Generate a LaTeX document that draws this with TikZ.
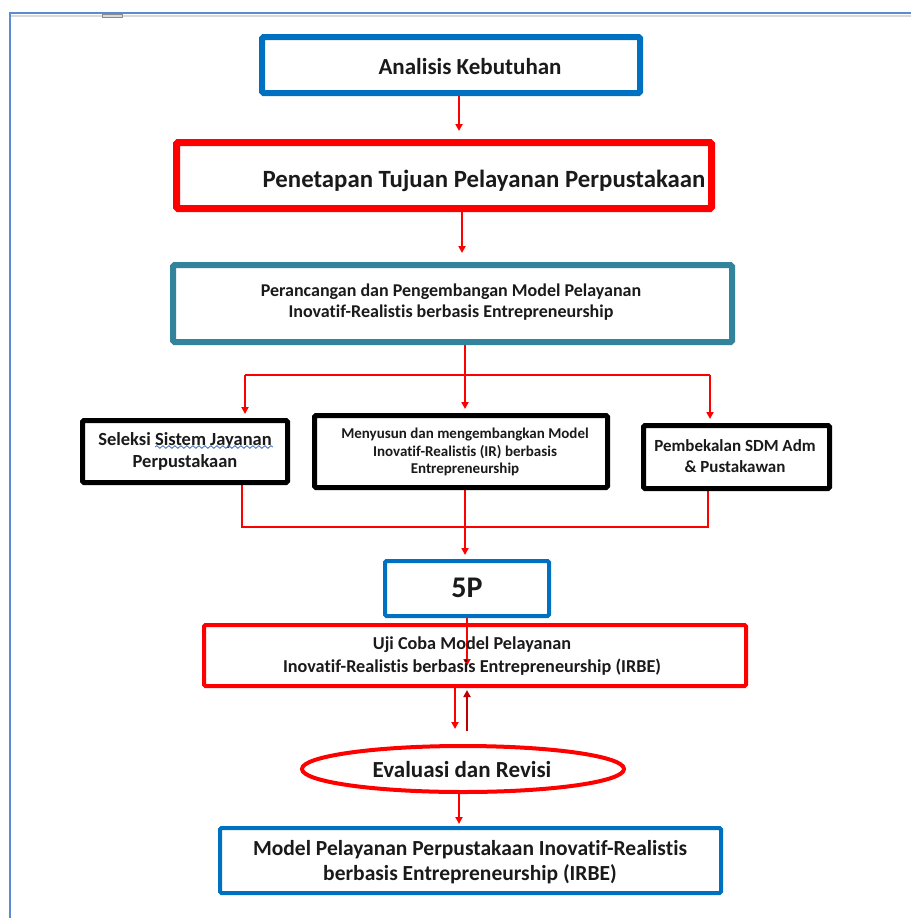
\documentclass[tikz,border=0pt]{standalone}
\usepackage{fontspec}
\setmainfont{Carlito}[Ligatures={NoCommon}]
\usetikzlibrary{shapes.geometric,decorations.pathmorphing,arrows.meta,backgrounds}
\definecolor{cblue}{HTML}{0070C0}
\definecolor{cred}{HTML}{FF0000}
\definecolor{cdred}{HTML}{C00000}
\definecolor{cteal}{HTML}{31849B}
\definecolor{cframe}{HTML}{5B8BD0}
\definecolor{cwave}{HTML}{4472C4}
\definecolor{ctext}{HTML}{1A1A1A}
\begin{document}
\begin{tikzpicture}[x=1pt,y=-1pt,
  box/.style={draw, rectangle, rounded corners=1.5pt, inner sep=0pt},
  lbl/.style={font=\bfseries, align=center, text=ctext, inner sep=0pt},
  ln/.style={cred, line width=2pt},
  arr/.style={cred, line width=2pt, -{Triangle[length=7pt,width=7pt]}},
  darr/.style={cdred, line width=2pt, -{Triangle[length=7pt,width=7pt]}}]
\useasboundingbox (0,0) rectangle (911,918);

% boxes
\node[box, cblue, line width=6pt, minimum width=378pt, minimum height=56pt] (b1) at (451,65) {};
\node[lbl, font=\bfseries\fontsize{23}{28}\selectfont] (t1) at (470,67) {Analisis Kebutuhan};

\node[box, cred, line width=7pt, minimum width=535pt, minimum height=66pt] (b2) at (444,175.5) {};
\node[lbl, font=\bfseries\fontsize{24.8}{29}\selectfont] (t2) at (484,181) {Penetapan Tujuan Pelayanan Perpustakaan};

\node[box, cteal, line width=6pt, minimum width=559pt, minimum height=77pt] (b3) at (452.5,303.5) {};
\node[lbl, font=\bfseries\fontsize{18}{21}\selectfont] (t3) at (451,302) {Perancangan dan Pengembangan Model Pelayanan\\Inovatif-Realistis berbasis Entrepreneurship};

\node[box, black, line width=5pt, minimum width=205pt, minimum height=62pt] (b4) at (185,451.5) {};
\node[lbl, font=\bfseries\fontsize{18.5}{22}\selectfont] (t4) at (185,451) {Seleksi Sistem Jayanan\\Perpustakaan};
\coordinate (w1) at (155,447);
\coordinate (w2) at (273,447);

\node[box, black, line width=5pt, minimum width=293pt, minimum height=72pt] (b5) at (461,451.5) {};
\node[lbl, font=\bfseries\fontsize{15}{17.5}\selectfont] (t5) at (465,452) {Menyusun dan mengembangkan Model\\Inovatif-Realistis (IR) berbasis\\Entrepreneurship};

\node[box, black, line width=5pt, minimum width=186pt, minimum height=63pt] (b6) at (736.5,457) {};
\node[lbl, font=\bfseries\fontsize{17}{21}\selectfont] (t6) at (735,456) {Pembekalan SDM Adm\\\& Pustakawan};

\node[box, cblue, line width=4pt, minimum width=164pt, minimum height=55pt] (b7) at (467,588.5) {};
\node[lbl, font=\bfseries\fontsize{30}{34}\selectfont] (t7) at (467,588) {5P};

\node[box, cred, line width=4pt, minimum width=542pt, minimum height=61pt] (b8) at (475,655.5) {};
\node[lbl, font=\bfseries\fontsize{18.2}{23}\selectfont] (t8) at (472,656) {Uji Coba Model Pelayanan\\Inovatif-Realistis berbasis Entrepreneurship (IRBE)};

\node[draw, ellipse, cred, line width=4pt, minimum width=322pt, minimum height=46pt, inner sep=0pt] (b9) at (463,769) {};
\node[lbl, font=\bfseries\fontsize{23}{27}\selectfont] (t9) at (462,770) {Evaluasi dan Revisi};

\node[box, cblue, line width=4pt, minimum width=501pt, minimum height=65pt] (b10) at (470.5,860.5) {};
\node[lbl, font=\bfseries\fontsize{21.5}{25}\selectfont] (t10) at (470,862) {Model Pelayanan Perpustakaan Inovatif-Realistis\\berbasis Entrepreneurship (IRBE)};

% columns
\coordinate (x242) at (242,0);
\coordinate (x245) at (245,0);
\coordinate (x455) at (455,0);
\coordinate (x459) at (459,0);
\coordinate (x462) at (462,0);
\coordinate (x465) at (465,0);
\coordinate (x467) at (467,0);
\coordinate (x708) at (708,0);
\coordinate (x710) at (710,0);
\coordinate (y375) at (0,375);
\coordinate (y527) at (0,527);
\coordinate (uend) at (467,666);
\coordinate (eup) at (467,731);
\coordinate (edn) at (455,729);

\begin{scope}[on background layer]
% page frame
\fill[white] (0,0) rectangle (911,918);
\draw[cframe, line width=2pt] (10,918) -- (10,13) -- (911,13);
\draw[black!15, line width=2pt] (11,15.5) -- (911,15.5);
\draw[black!45, line width=0.8pt] (102,14) rectangle (122,17);
% connectors
\draw[arr, shorten >=8pt] (b1.south -| x459) -- (b2.north -| x459);
\draw[arr, shorten >=9pt] (b2.south -| x462) -- (b3.north -| x462);
\draw[arr, shorten >=4pt] (b3.south -| x465) -- (b5.north -| x465);
\draw[ln] (x245 |- y375) -- (x710 |- y375);
\draw[arr, shorten >=4pt] (x245 |- y375) -- (b4.north -| x245);
\draw[arr, shorten >=4pt] (x710 |- y375) -- (b6.north -| x710);
\draw[ln] (b4.south -| x242) -- (x242 |- y527) -- (x708 |- y527) -- (b6.south -| x708);
\draw[arr, shorten >=4pt] (b5.south -| x465) -- (b7.north -| x465);
\draw[arr] (b7.south -| x467) -- (uend);
\draw[arr] (b8.south -| x455) -- (edn);
\draw[darr, shorten >=2pt] (eup) -- (b8.south -| x467);
\draw[arr, shorten >=2pt] (b9.south -| x459) -- (b10.north -| x459);
\end{scope}
\draw[cwave, line width=0.8pt, decorate, decoration={snake, segment length=6pt, amplitude=1.3pt}] (w1) -- (w2);
\end{tikzpicture}
\end{document}
